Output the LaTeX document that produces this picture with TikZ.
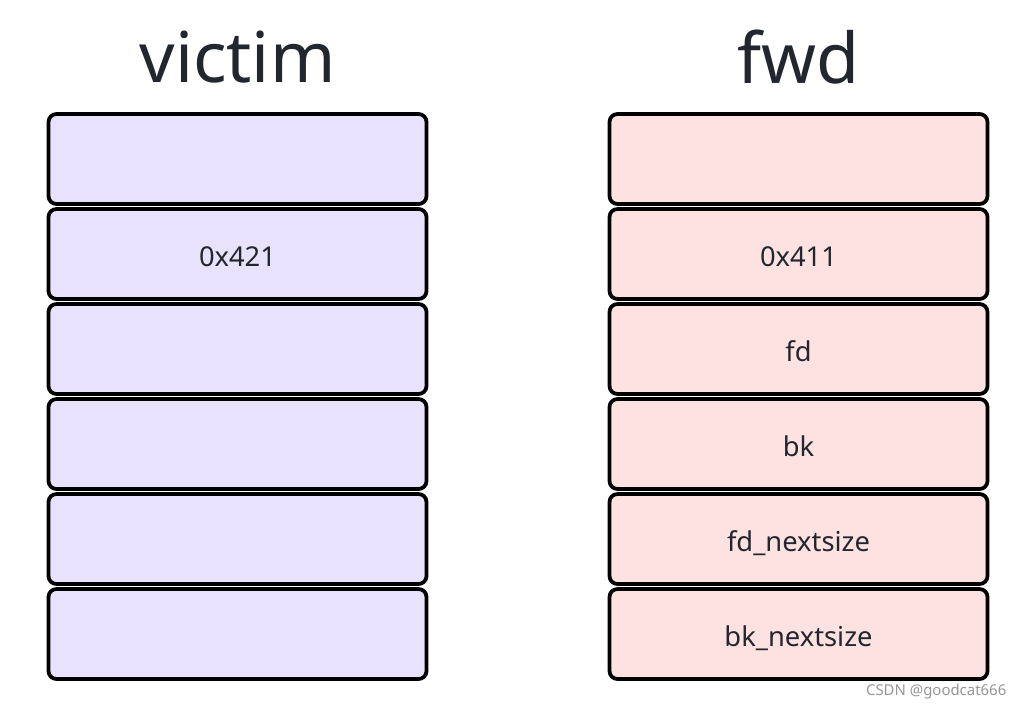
\documentclass[tikz,border=0pt]{standalone}
\usepackage{fontspec}
\setmainfont{Noto Sans}
\definecolor{victimfill}{RGB}{232,226,253}
\definecolor{fwdfill}{RGB}{254,226,226}
\definecolor{inkdark}{RGB}{34,38,46}
\definecolor{markgray}{RGB}{150,150,150}
\begin{document}
\begin{tikzpicture}[x=0.75pt,y=-0.75pt,
	cell/.style={draw=black,line width=2.8pt,rounded corners=6pt,
		minimum width=283.5pt,minimum height=67.5pt,inner sep=0pt,
		text height=18.4pt,text depth=0pt,
		text=inkdark,font=\fontsize{20.5}{23}\selectfont},
	vcell/.style={cell,fill=victimfill},
	fcell/.style={cell,fill=fwdfill},
	title/.style={text=inkdark,font=\fontsize{52.5}{58}\selectfont}]
	\useasboundingbox (0,0) rectangle (1024,710);
	
	\node[title] at (237.5,57) (victim) {victim};
	\node[vcell] at (237.5,159) (v0) {};
	\node[vcell] at (237.5,254) (v1) {0x421};
	\node[vcell] at (237.5,349) (v2) {};
	\node[vcell] at (237.5,444) (v3) {};
	\node[vcell] at (237.5,539) (v4) {};
	\node[vcell] at (237.5,634) (v5) {};
	
	\node[title] at (798.5,57) (fwd) {fwd};
	\node[fcell] at (798.5,159) (f0) {};
	\node[fcell] at (798.5,254) (f1) {0x411};
	\node[fcell] at (798.5,349) (f2) {fd};
	\node[fcell] at (798.5,444) (f3) {bk};
	\node[fcell] at (798.5,539) (f4) {fd\_nextsize};
	\node[fcell] at (798.5,634) (f5) {bk\_nextsize};
	
	\node[text=markgray,font=\fontsize{11.2}{13}\selectfont,anchor=east] at (1011,692) (mark) {CSDN @goodcat666};
\end{tikzpicture}
\end{document}
